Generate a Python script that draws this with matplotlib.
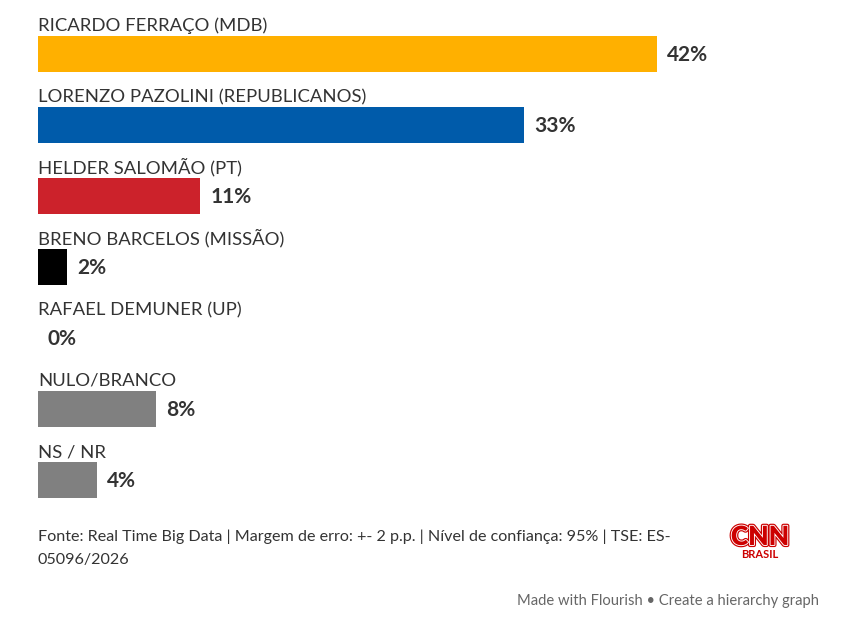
import matplotlib.pyplot as plt
import matplotlib.patheffects as pe

plt.rcParams['font.family'] = ['Lato', 'DejaVu Sans']

names = ["RICARDO FERRAÇO (MDB)", "LORENZO PAZOLINI (REPUBLICANOS)",
         "HELDER SALOMÃO (PT)", "BRENO BARCELOS (MISSÃO)",
         "RAFAEL DEMUNER (UP)", "NULO/BRANCO", "NS / NR"]
values = [42, 33, 11, 2, 0, 8, 4]
colors = ["#FFB000", "#005BAA", "#CC222B", "#000000", "#000000", "#808080", "#808080"]

source_lines = ["Fonte: Real Time Big Data | Margem de erro: +- 2 p.p. | Nível de confiança: 95% | TSE: ES-",
                "05096/2026"]
credit = "Made with Flourish • Create a hierarchy graph"

W, H = 847, 622
fig = plt.figure(figsize=(W / 100, H / 100), dpi=100)

# axes laid out in pixels: 0% at x=38, 14.74 px per point, rows 71 px apart
px_per_pct = 619 / 42
x_max = 50
ax = fig.add_axes([38 / W, 0, x_max * px_per_pct / W, 1])
ax.set_xlim(0, x_max)
ax.set_ylim((H - 54) / 71, -54 / 71)
ax.axis("off")

rows = list(range(len(names)))
ax.barh(rows, values, height=36 / 71, color=colors)

for i, (n, v) in enumerate(zip(names, values)):
    ax.text(0, i - 23 / 71, n, fontsize=13.3, color="#333333", va="baseline", ha="left")
    ax.text(v + 10 / px_per_pct, i + 7 / 71, f"{v}%", fontsize=15, fontweight="bold",
            color="#333333", va="baseline", ha="left")


def fx(x):
    return x / W


def fy(y):
    return 1 - y / H


for k, line in enumerate(source_lines):
    fig.text(fx(38), fy(541 + 23 * k), line, fontsize=11.6, color="#333333",
             va="baseline", ha="left")
fig.text(fx(819), fy(605), credit, fontsize=10.6, color="#666666", va="baseline", ha="right")

logo = fig.text(fx(760), fy(545), "CNN", fontsize=19, fontweight="heavy", color="#CC0000",
                ha="center", va="baseline")
logo.set_path_effects([pe.Stroke(linewidth=3, foreground="#CC0000"),
                       pe.Stroke(linewidth=1.3, foreground="white"), pe.Normal()])
fig.text(fx(760), fy(558), "BRASIL", fontsize=8, fontweight="bold", color="#CC0000",
         ha="center", va="baseline")

fig.savefig("out.png", dpi=100, facecolor="white")
